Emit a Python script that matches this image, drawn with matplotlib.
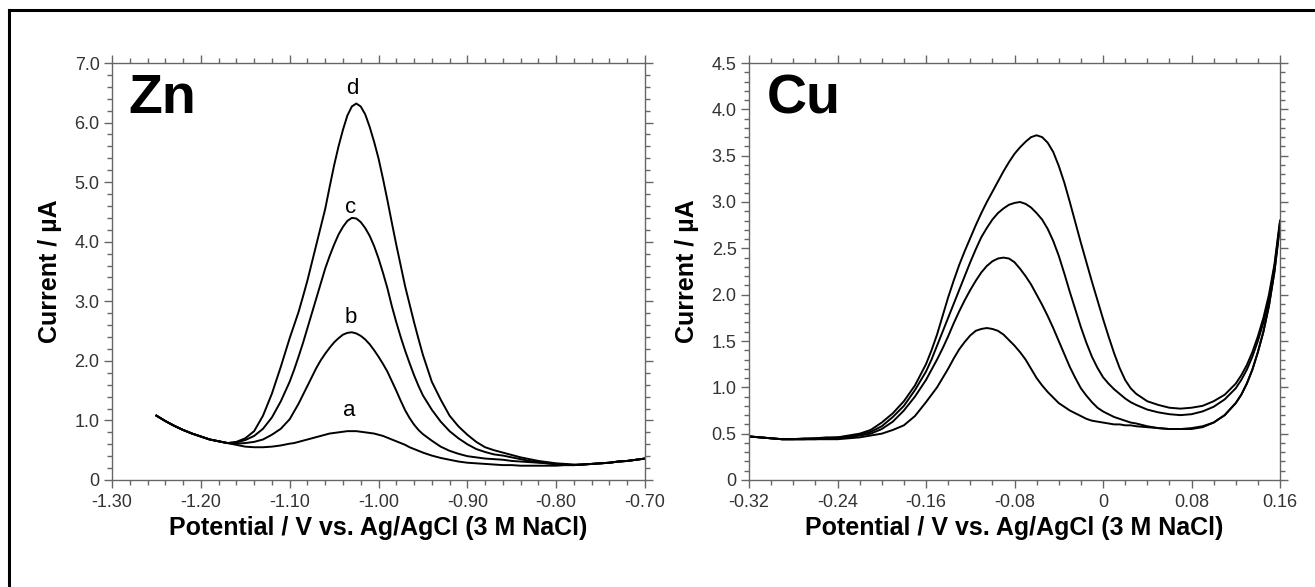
import numpy as np
import matplotlib
matplotlib.use('Agg')
import matplotlib.pyplot as plt
from matplotlib.lines import Line2D
from matplotlib.ticker import MultipleLocator

plt.rcParams['font.family'] = ['Liberation Sans', 'DejaVu Sans']

# Zn panel (potential in V, current in uA); finer reading around the peak
zn_x = np.round(np.concatenate([np.linspace(-1.25, -1.11, 15),
                                np.linspace(-1.10, -0.95, 31),
                                np.linspace(-0.94, -0.70, 25)]), 3)
zn_a = [1.08, 0.99, 0.91, 0.84, 0.78, 0.73, 0.68, 0.65, 0.62, 0.59, 0.56, 0.55, 0.55, 0.56, 0.58,
        0.61, 0.62, 0.64, 0.66, 0.68, 0.70, 0.72, 0.74, 0.76, 0.78, 0.79, 0.80, 0.81, 0.82, 0.82,
        0.82, 0.81, 0.80, 0.79, 0.78, 0.76, 0.74, 0.71, 0.68, 0.65, 0.62, 0.59, 0.55, 0.52, 0.49, 0.46,
        0.41, 0.37, 0.34, 0.31, 0.29, 0.28, 0.27, 0.26, 0.25, 0.25, 0.24, 0.24, 0.24, 0.24, 0.24,
        0.25, 0.25, 0.26, 0.27, 0.28, 0.29, 0.31, 0.32, 0.34, 0.36]
zn_b = [1.08, 0.99, 0.91, 0.84, 0.78, 0.73, 0.68, 0.65, 0.62, 0.61, 0.62, 0.64, 0.68, 0.76, 0.86,
        1.02, 1.15, 1.28, 1.43, 1.58, 1.73, 1.88, 2.01, 2.12, 2.22, 2.31, 2.38, 2.44, 2.47, 2.48,
        2.46, 2.42, 2.36, 2.28, 2.18, 2.07, 1.95, 1.82, 1.66, 1.50, 1.33, 1.17, 1.04, 0.93, 0.84, 0.77,
        0.66, 0.56, 0.49, 0.44, 0.40, 0.38, 0.36, 0.35, 0.34, 0.32, 0.31, 0.30, 0.29, 0.28, 0.27,
        0.26, 0.25, 0.26, 0.27, 0.28, 0.29, 0.31, 0.32, 0.34, 0.36]
zn_c = [1.08, 0.99, 0.91, 0.84, 0.78, 0.73, 0.68, 0.65, 0.62, 0.63, 0.67, 0.74, 0.86, 1.05, 1.32,
        1.65, 1.85, 2.07, 2.30, 2.55, 2.80, 3.05, 3.30, 3.55, 3.76, 3.95, 4.12, 4.25, 4.35, 4.40,
        4.39, 4.33, 4.23, 4.10, 3.93, 3.72, 3.48, 3.22, 2.92, 2.65, 2.40, 2.17, 1.96, 1.76, 1.58, 1.42,
        1.18, 0.98, 0.82, 0.70, 0.60, 0.52, 0.47, 0.43, 0.41, 0.38, 0.35, 0.32, 0.30, 0.28, 0.26,
        0.25, 0.25, 0.26, 0.27, 0.28, 0.29, 0.31, 0.32, 0.34, 0.36]
zn_d = [1.08, 0.99, 0.91, 0.84, 0.78, 0.73, 0.68, 0.65, 0.62, 0.64, 0.70, 0.82, 1.08, 1.45, 1.90,
        2.38, 2.60, 2.82, 3.08, 3.35, 3.65, 3.95, 4.25, 4.55, 4.92, 5.28, 5.60, 5.88, 6.12, 6.27,
        6.32, 6.27, 6.14, 5.93, 5.68, 5.40, 5.06, 4.70, 4.32, 3.95, 3.60, 3.25, 2.95, 2.65, 2.37, 2.10,
        1.65, 1.35, 1.08, 0.90, 0.76, 0.64, 0.55, 0.50, 0.46, 0.42, 0.38, 0.35, 0.32, 0.30, 0.28,
        0.27, 0.26, 0.26, 0.27, 0.28, 0.29, 0.31, 0.32, 0.34, 0.36]
zn_labels = ['a', 'b', 'c', 'd']
zn_label_pos = [(-1.033, 1.17), (-1.031, 2.73), (-1.031, 4.58), (-1.029, 6.58)]

# Cu panel; finer reading across the peak and the anodic rise
cu_x = np.round(np.concatenate([np.linspace(-0.32, -0.17, 16),
                                np.linspace(-0.16, 0.03, 39),
                                np.linspace(0.04, 0.12, 9),
                                np.linspace(0.125, 0.16, 8)]), 3)
cu_1 = [0.47, 0.46, 0.45, 0.44, 0.44, 0.44, 0.44, 0.44, 0.44, 0.45, 0.46, 0.48, 0.50, 0.54, 0.59, 0.69,
        0.84, 0.92, 1.00, 1.10, 1.20, 1.31, 1.41, 1.49, 1.56, 1.61, 1.63, 1.64, 1.63, 1.61, 1.57,
        1.51, 1.45, 1.38, 1.30, 1.20, 1.10, 1.02, 0.95, 0.89, 0.83, 0.79, 0.75, 0.72, 0.69, 0.66,
        0.64, 0.63, 0.62, 0.61, 0.60, 0.60, 0.59, 0.59, 0.58,
        0.57, 0.56, 0.55, 0.55, 0.56, 0.58, 0.62, 0.70, 0.83,
        0.92, 1.04, 1.19, 1.38, 1.60, 1.88, 2.25, 2.75]
cu_2 = [0.47, 0.46, 0.45, 0.44, 0.44, 0.44, 0.44, 0.45, 0.45, 0.46, 0.48, 0.50, 0.55, 0.63, 0.75, 0.90,
        1.08, 1.19, 1.30, 1.42, 1.55, 1.69, 1.82, 1.94, 2.05, 2.15, 2.24, 2.31, 2.36, 2.39, 2.40,
        2.39, 2.35, 2.28, 2.20, 2.11, 2.00, 1.89, 1.77, 1.64, 1.50, 1.36, 1.22, 1.10, 0.99, 0.91,
        0.84, 0.78, 0.74, 0.71, 0.68, 0.66, 0.64, 0.62, 0.61,
        0.58, 0.56, 0.55, 0.55, 0.55, 0.57, 0.62, 0.70, 0.83,
        0.92, 1.04, 1.19, 1.38, 1.60, 1.88, 2.25, 2.75]
cu_3 = [0.47, 0.46, 0.45, 0.44, 0.44, 0.44, 0.45, 0.45, 0.46, 0.47, 0.49, 0.52, 0.58, 0.68, 0.80, 0.97,
        1.17, 1.30, 1.45, 1.60, 1.75, 1.90, 2.05, 2.20, 2.35, 2.49, 2.62, 2.72, 2.81, 2.88, 2.93,
        2.97, 2.99, 3.00, 2.98, 2.94, 2.88, 2.81, 2.71, 2.58, 2.42, 2.23, 2.03, 1.84, 1.65, 1.48,
        1.33, 1.21, 1.11, 1.04, 0.98, 0.93, 0.88, 0.84, 0.81,
        0.76, 0.73, 0.71, 0.70, 0.71, 0.74, 0.79, 0.87, 0.99,
        1.08, 1.19, 1.33, 1.50, 1.70, 1.95, 2.30, 2.78]
cu_4 = [0.47, 0.46, 0.45, 0.44, 0.44, 0.45, 0.45, 0.46, 0.46, 0.48, 0.50, 0.54, 0.62, 0.72, 0.85, 1.02,
        1.25, 1.40, 1.57, 1.77, 1.97, 2.15, 2.32, 2.47, 2.61, 2.75, 2.88, 3.00, 3.11, 3.22, 3.33,
        3.43, 3.52, 3.59, 3.65, 3.70, 3.72, 3.70, 3.64, 3.54, 3.39, 3.21, 3.00, 2.78, 2.56, 2.35,
        2.14, 1.94, 1.74, 1.55, 1.37, 1.21, 1.08, 0.99, 0.93,
        0.85, 0.81, 0.78, 0.77, 0.78, 0.80, 0.85, 0.92, 1.04,
        1.13, 1.24, 1.38, 1.55, 1.75, 2.00, 2.33, 2.80]

xlabel = 'Potential / V vs. Ag/AgCl (3 M NaCl)'
ylabel = 'Current / µA'

fig = plt.figure(figsize=(13.15, 5.87), dpi=100)
ax1 = fig.add_axes([112 / 1315, 107 / 587, 533 / 1315, 417 / 587])
ax2 = fig.add_axes([749 / 1315, 107 / 587, 531 / 1315, 417 / 587])

for y in [zn_a, zn_b, zn_c, zn_d]:
    ax1.plot(zn_x, y, color='black', lw=1.4)
for lab, (lx, ly) in zip(zn_labels, zn_label_pos):
    ax1.text(lx, ly, lab, fontsize=16, ha='center', va='center')

for y in [cu_1, cu_2, cu_3, cu_4]:
    ax2.plot(cu_x, y, color='black', lw=1.4)


def style_axis(ax):
    for s in ax.spines.values():
        s.set_color('#666666')
        s.set_linewidth(1.0)
    ax.tick_params(which='both', direction='out', top=True, right=True,
                   color='#666666', width=1.0, labelsize=13, labelcolor='#333333')
    ax.tick_params(which='major', length=6)
    ax.tick_params(which='minor', length=3.5)
    ax.tick_params(axis='x', pad=4)
    ax.tick_params(axis='y', pad=3)
    ax.tick_params(labeltop=False, labelright=False)
    ax.set_xlabel(xlabel, fontsize=18, fontweight='bold', labelpad=3.5)
    ax.set_ylabel(ylabel, fontsize=18, fontweight='bold', labelpad=9)


ax1.set_xlim(-1.30, -0.70)
ax1.set_ylim(0, 7.0)
ax1.set_xticks(np.round(np.arange(-1.30, -0.695, 0.1), 2))
ax1.set_xticklabels(['-1.30', '-1.20', '-1.10', '-1.00', '-0.90', '-0.80', '-0.70'])
ax1.xaxis.set_minor_locator(MultipleLocator(0.02))
ax1.set_yticks(np.arange(0, 7.5, 1.0))
ax1.set_yticklabels(['0', '1.0', '2.0', '3.0', '4.0', '5.0', '6.0', '7.0'])
ax1.yaxis.set_minor_locator(MultipleLocator(0.2))
style_axis(ax1)
ax1.text(0.03, 0.975, 'Zn', transform=ax1.transAxes, fontsize=40,
         fontweight='bold', ha='left', va='top')

ax2.set_xlim(-0.32, 0.16)
ax2.set_ylim(0, 4.5)
ax2.set_xticks(np.round(np.arange(-0.32, 0.165, 0.08), 2))
ax2.set_xticklabels(['-0.32', '-0.24', '-0.16', '-0.08', '0', '0.08', '0.16'])
ax2.xaxis.set_minor_locator(MultipleLocator(0.02))
ax2.set_yticks(np.arange(0, 4.6, 0.5))
ax2.set_yticklabels(['0', '0.5', '1.0', '1.5', '2.0', '2.5', '3.0', '3.5', '4.0', '4.5'])
ax2.yaxis.set_minor_locator(MultipleLocator(0.1))
style_axis(ax2)
ax2.text(0.033, 0.975, 'Cu', transform=ax2.transAxes, fontsize=40,
         fontweight='bold', ha='left', va='top')

# outer frame (left and top edges visible)
fig.add_artist(Line2D([9 / 1315, 9 / 1315], [0, 1 - 10 / 587], transform=fig.transFigure,
                      color='black', lw=2.2))
fig.add_artist(Line2D([9 / 1315, 1], [1 - 10 / 587, 1 - 10 / 587], transform=fig.transFigure,
                      color='black', lw=2.2))

fig.savefig('out.png', dpi=100)
